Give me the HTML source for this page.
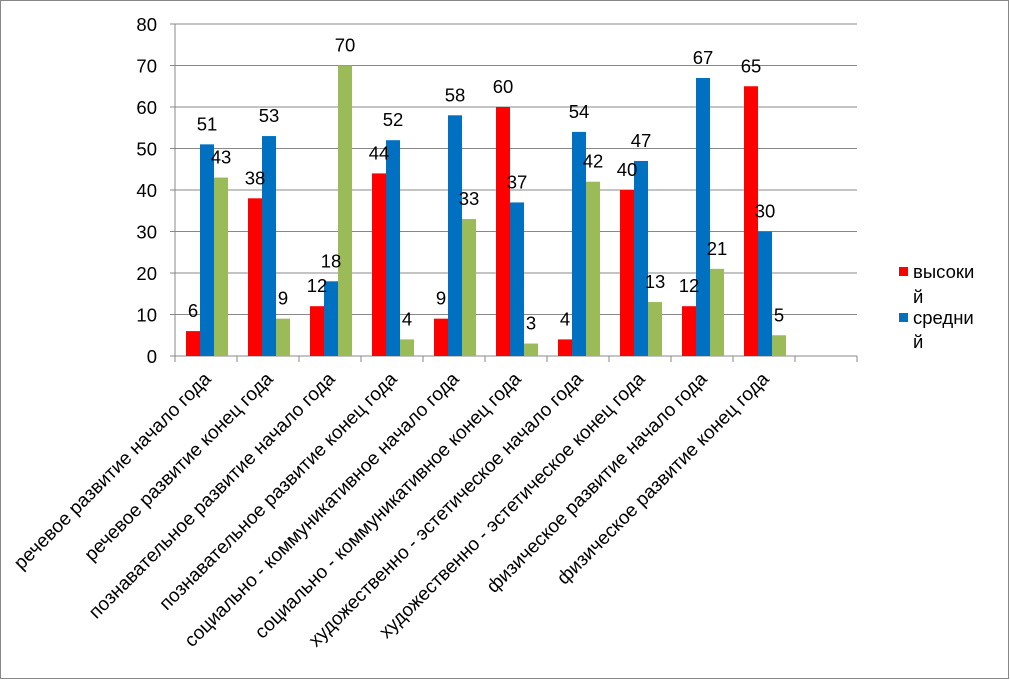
<!DOCTYPE html><html><head><meta charset="utf-8"><style>body{margin:0;background:#fff}svg{display:block}text{font-family:"Liberation Sans",sans-serif;fill:#000}</style></head><body>
<svg width="1010" height="680" viewBox="0 0 1010 680" xmlns="http://www.w3.org/2000/svg">
<rect x="0.5" y="0.5" width="1008" height="678" fill="#fff" stroke="#888"/>
<g id="grid" stroke="#888" stroke-width="1"></g>
<g id="bars"></g>
<g id="labels" font-size="18.5"></g>
<g id="cats" font-size="19"></g>
<rect x="899" y="267" width="9" height="9" fill="#ff0000"/>
<text x="913" y="278" font-size="18.5">высоки</text><text x="913" y="303" font-size="18.5">й</text>
<rect x="899" y="313" width="9" height="9" fill="#0070c0"/>
<text x="913" y="324" font-size="18.5">средни</text><text x="913" y="348" font-size="18.5">й</text>
</svg>
<script>
var ns="http://www.w3.org/2000/svg";
function el(p,t,a,txt){var e=document.createElementNS(ns,t);for(var k in a)e.setAttribute(k,a[k]);if(txt!=null)e.textContent=txt;document.getElementById(p).appendChild(e);}
var y0=356,s=4.15,x0=175,w=62;
for(var v=0;v<=80;v+=10){var y=y0-v*s;el("grid","line",{x1:x0-5,x2:857,y1:y,y2:y});el("labels","text",{x:157,y:y+7,"text-anchor":"end"},v);}
el("grid","line",{x1:x0,x2:x0,y1:24,y2:y0});
for(var i=0;i<=11;i++){el("grid","line",{x1:x0+i*w,x2:x0+i*w,y1:y0,y2:y0+6});}
var d=[[6,51,43],[38,53,9],[12,18,70],[44,52,4],[9,58,33],[60,37,3],[4,54,42],[40,47,13],[12,67,21],[65,30,5]];
var c=["#ff0000","#0070c0","#9bbb59"];
var names=["речевое развитие начало года","речевое развитие конец года","познавательное развитие начало года","познавательное развитие конец года","социально - коммуникативное начало года","социально - коммуникативное конец года","художественно - эстетическое начало года","художественно - эстетическое конец года","физическое развитие начало года","физическое развитие конец года"];
d.forEach(function(g,i){g.forEach(function(v,j){var x=x0+i*w+11+j*14;el("bars","rect",{x:x,y:y0-v*s,width:14,height:v*s,fill:c[j]});el("labels","text",{x:x+7,y:y0-v*s-14,"text-anchor":"middle"},v);});
var cx=x0+i*w+w/2+6;el("cats","text",{x:cx,y:380,"text-anchor":"end",transform:"rotate(-45 "+cx+" 380)"},names[i]);});
</script>
</body></html>
